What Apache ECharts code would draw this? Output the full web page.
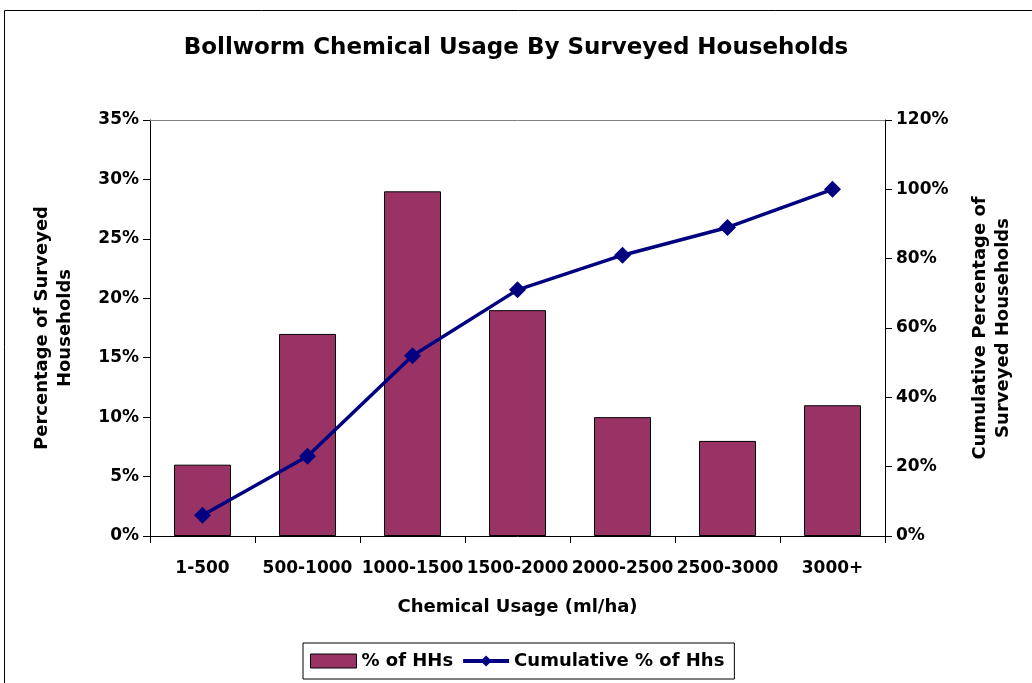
<!DOCTYPE html>
<html>
<head>
<meta charset="utf-8">
<script src="https://cdn.jsdelivr.net/npm/echarts@6/dist/echarts.min.js"></script>
<style>html,body{margin:0;padding:0;background:#fff}#c{width:1032px;height:683px}</style>
</head>
<body>
<div id="c"></div>
<script>
const categories = ['1-500','500-1000','1000-1500','1500-2000','2000-2500','2500-3000','3000+'];
const pctHHs = [6, 17, 29, 19, 10, 8, 11];
const cumPctHHs = [6, 23, 52, 71, 81, 89, 100];
const leftTicks = {min: 0, max: 35, interval: 5};
const rightTicks = {min: 0, max: 120, interval: 20};

const FONT = 'DejaVu Sans';
const chart = echarts.init(document.getElementById('c'));
chart.setOption({
  animation: false,
  backgroundColor: '#fff',
  title: {
    text: 'Bollworm Chemical Usage By Surveyed Households',
    left: 'center', top: 32,
    textStyle: {fontFamily: FONT, fontWeight: 'bold', fontSize: 23, color: '#000'}
  },
  grid: {left: 150, right: 147, top: 120, bottom: 147},
  legend: {
    left: 303, top: 643, width: 431,
    padding: [9, 10, 9, 7],
    itemGap: 8, itemWidth: 46, itemHeight: 14,
    borderColor: '#000', borderWidth: 1,
    textStyle: {fontFamily: FONT, fontWeight: 'bold', fontSize: 18, color: '#000'},
    data: [
      {name: '% of HHs', icon: 'rect', itemStyle: {borderColor: '#000', borderWidth: 1}},
      {name: 'Cumulative % of Hhs', lineStyle: {width: 4, color: '#000080'}}
    ]
  },
  xAxis: [{
    type: 'category', data: categories, position: 'bottom',
    axisLine: {lineStyle: {color: '#000', width: 1}},
    axisTick: {show: true, length: 7, lineStyle: {color: '#000'}},
    axisLabel: {fontFamily: FONT, fontWeight: 'bold', fontSize: 17, color: '#000', margin: 24, interval: 0},
    name: 'Chemical Usage (ml/ha)', nameLocation: 'middle', nameGap: 62,
    nameTextStyle: {fontFamily: FONT, fontWeight: 'bold', fontSize: 18, color: '#000'}
  }, {
    type: 'category', data: categories, position: 'top',
    axisLine: {show: true, onZero: false, lineStyle: {color: '#808080', width: 1}},
    axisTick: {show: false}, axisLabel: {show: false}
  }],
  yAxis: [{
    type: 'value', min: leftTicks.min, max: leftTicks.max, interval: leftTicks.interval,
    axisLine: {show: true, lineStyle: {color: '#000'}},
    axisTick: {show: true, length: 7, lineStyle: {color: '#000'}},
    splitLine: {show: false},
    axisLabel: {formatter: '{value}%', fontFamily: FONT, fontWeight: 'bold', fontSize: 17, color: '#000', margin: 11},
    name: 'Percentage of Surveyed\nHouseholds', nameLocation: 'middle', nameRotate: 90, nameGap: 73,
    nameTextStyle: {fontFamily: FONT, fontWeight: 'bold', fontSize: 18, color: '#000', lineHeight: 23}
  }, {
    type: 'value', min: rightTicks.min, max: rightTicks.max, interval: rightTicks.interval,
    position: 'right',
    axisLine: {show: true, lineStyle: {color: '#000'}},
    axisTick: {show: true, length: 7, lineStyle: {color: '#000'}},
    splitLine: {show: false},
    axisLabel: {formatter: '{value}%', fontFamily: FONT, fontWeight: 'bold', fontSize: 17, color: '#000', margin: 11},
    name: 'Cumulative Percentage of\nSurveyed Households', nameLocation: 'middle', nameRotate: 90, nameGap: 84,
    nameTextStyle: {fontFamily: FONT, fontWeight: 'bold', fontSize: 18, color: '#000', lineHeight: 23}
  }],
  series: [{
    name: '% of HHs', type: 'bar', data: pctHHs, barWidth: 57,
    itemStyle: {color: '#993366', borderColor: '#000', borderWidth: 1}
  }, {
    name: 'Cumulative % of Hhs', type: 'line', yAxisIndex: 1, data: cumPctHHs,
    symbol: 'diamond', symbolSize: 17,
    lineStyle: {color: '#000080', width: 3.5},
    itemStyle: {color: '#000080'}
  }],
  graphic: [{
    type: 'rect', silent: true, z: -1,
    shape: {x: 4.5, y: 10.5, width: 1100, height: 800},
    style: {fill: 'none', stroke: '#000', lineWidth: 1}
  }]
});
</script>
</body>
</html>
